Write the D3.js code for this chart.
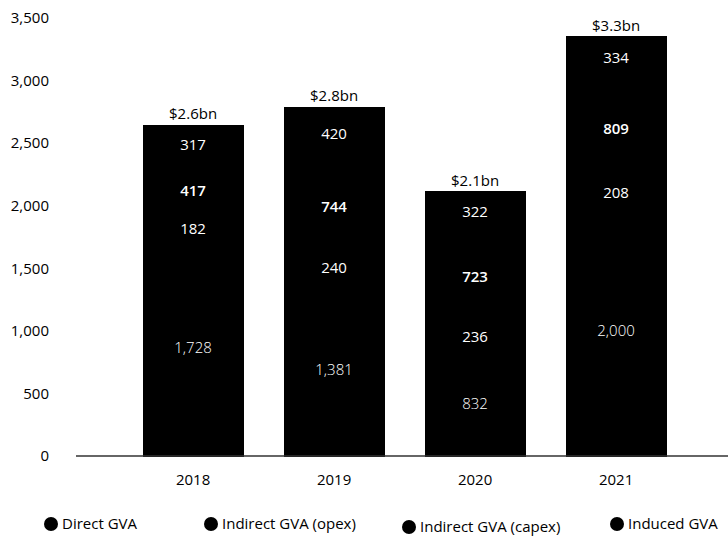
<!DOCTYPE html>
<html>
<head>
<meta charset="utf-8">
<script src="https://cdn.jsdelivr.net/npm/d3@7"></script>
<style>
  body { margin: 0; background: #fff; }
  svg text { font-family: "Open Sans", sans-serif; }
</style>
</head>
<body>
<svg id="chart" width="728" height="537"></svg>
<script>
// data
var years = ["2018", "2019", "2020", "2021"];
var seriesNames = ["Direct GVA", "Indirect GVA (opex)", "Indirect GVA (capex)", "Induced GVA"];
var direct = [1728, 1381, 832, 2000];
var indirectOpex = [182, 240, 236, 208];
var indirectCapex = [417, 744, 723, 809];
var induced = [317, 420, 322, 334];
var totalLabels = ["$2.6bn", "$2.8bn", "$2.1bn", "$3.3bn"];
var yTicks = [0, 500, 1000, 1500, 2000, 2500, 3000, 3500];
var colors = ["#000", "#000", "#000", "#000"];

var svg = d3.select("#chart");

var rows = years.map(function(y, i) {
    return { year: y, s0: direct[i], s1: indirectOpex[i], s2: indirectCapex[i], s3: induced[i] };
});
var keys = ["s0", "s1", "s2", "s3"];
var stacked = d3.stack().keys(keys)(rows);

var x = d3.scaleBand()
    .domain(years)
    .range([76, 728])
    .paddingInner(0.284)
    .paddingOuter(0.454)
    .align(0.52);

var y = d3.scaleLinear()
    .domain([0, 3500])
    .range([456, 18]);

// y axis labels, no line
var yAxis = svg.append("g")
    .attr("transform", "translate(49,0)")
    .call(d3.axisLeft(y).tickValues(yTicks).tickSize(0).tickPadding(0).tickFormat(d3.format(",")));
yAxis.select(".domain").remove();
yAxis.selectAll("text")
    .attr("font-family", "Open Sans")
    .attr("font-size", 15)
    .attr("fill", "#000");

// bars
var layers = svg.append("g").selectAll("g")
    .data(stacked)
    .enter().append("g")
    .attr("fill", function(d, i) { return colors[i]; });

layers.selectAll("rect")
    .data(function(d) { return d; })
    .enter().append("rect")
    .attr("shape-rendering", "crispEdges")
    .attr("x", function(d) { return x(d.data.year); })
    .attr("y", function(d) { return Math.floor(y(d[1])); })
    .attr("width", x.bandwidth())
    .attr("height", function(d) { return Math.ceil(y(d[0]) - y(d[1])) + 1; });

// segment value labels
var weights = [300, 400, 600, 400];
layers.each(function(layer, li) {
    d3.select(this).selectAll("text")
        .data(layer)
        .enter().append("text")
        .attr("x", function(d) { return x(d.data.year) + x.bandwidth() / 2; })
        .attr("y", function(d) { return y((d[0] + d[1]) / 2); })
        .attr("dy", "0.35em")
        .attr("text-anchor", "middle")
        .attr("font-size", 15)
        .attr("font-weight", weights[li])
        .attr("fill", "#fff")
        .text(function(d) { return d3.format(",")(d[1] - d[0]); });
});

// totals above bars
svg.append("g").selectAll("text")
    .data(rows)
    .enter().append("text")
    .attr("x", function(d) { return x(d.year) + x.bandwidth() / 2; })
    .attr("y", function(d) { return y(d.s0 + d.s1 + d.s2 + d.s3) - 6; })
    .attr("text-anchor", "middle")
    .attr("font-size", 15)
    .attr("fill", "#000")
    .text(function(d, i) { return totalLabels[i]; });

// baseline
svg.append("line")
    .attr("x1", 76).attr("x2", 728)
    .attr("y1", y(0)).attr("y2", y(0))
    .attr("stroke", "#333")
    .attr("stroke-width", 1.5);

// x labels
var xAxis = svg.append("g")
    .attr("transform", "translate(0," + y(0) + ")")
    .call(d3.axisBottom(x).tickSize(0).tickPadding(18));
xAxis.select(".domain").remove();
xAxis.selectAll("text")
    .attr("font-family", "Open Sans")
    .attr("font-size", 15)
    .attr("fill", "#000");

// legend
var legendX = [51, 211, 409, 617];
var legendY = [524, 524, 527, 524];
var legend = svg.append("g").selectAll("g")
    .data(seriesNames)
    .enter().append("g")
    .attr("transform", function(d, i) { return "translate(" + legendX[i] + "," + legendY[i] + ")"; });
legend.append("circle")
    .attr("r", 7)
    .attr("fill", function(d, i) { return colors[i]; });
legend.append("text")
    .attr("x", 11)
    .attr("dy", "0.35em")
    .attr("font-size", 15)
    .attr("fill", "#000")
    .text(function(d) { return d; });
</script>
</body>
</html>
